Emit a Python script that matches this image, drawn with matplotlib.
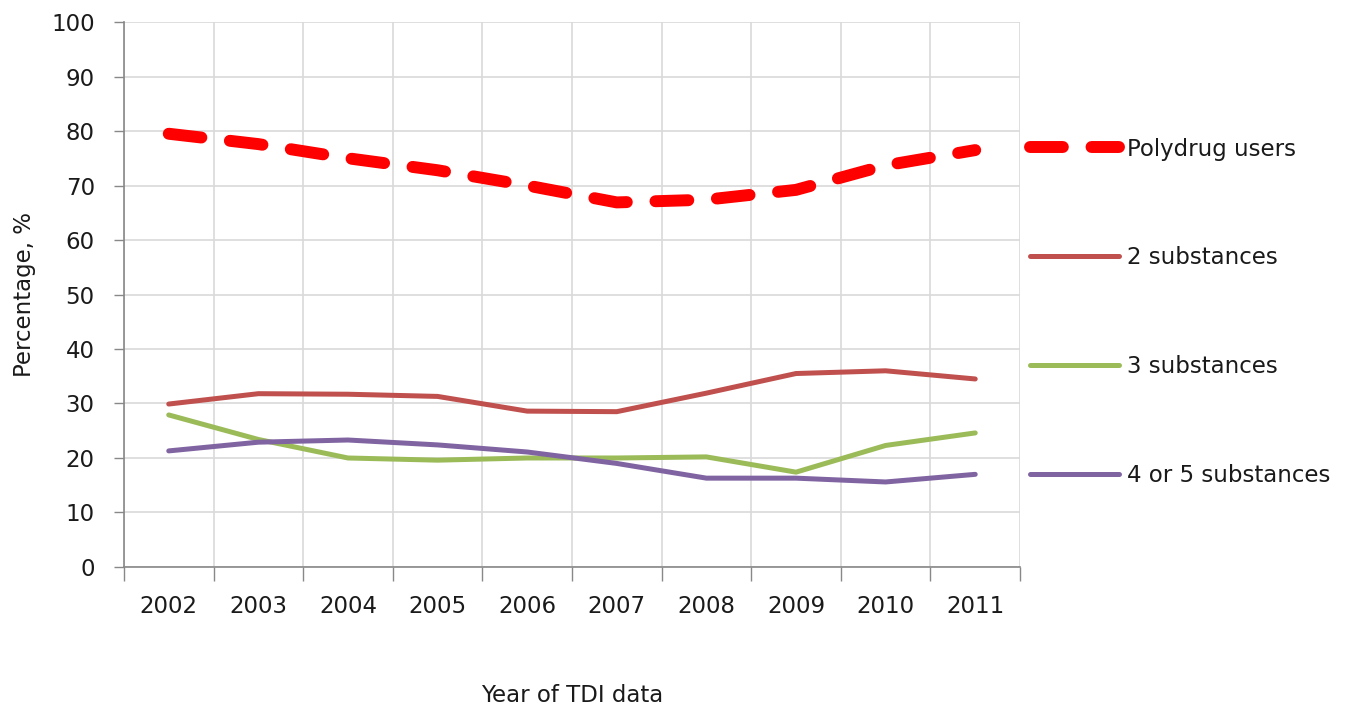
import matplotlib
matplotlib.use("Agg")
import matplotlib.pyplot as plt
import numpy as np

years = ["2002", "2003", "2004", "2005", "2006", "2007", "2008", "2009", "2010", "2011"]
polydrug = [79.5, 77.6, 75.0, 72.8, 70.0, 66.9, 67.4, 69.2, 73.7, 76.5]
two_sub = [29.9, 31.8, 31.7, 31.3, 28.6, 28.5, 31.9, 35.5, 36.0, 34.5]
three_sub = [27.9, 23.4, 20.0, 19.6, 20.0, 20.0, 20.2, 17.4, 22.3, 24.6]
four_five_sub = [21.3, 22.9, 23.3, 22.4, 21.1, 19.0, 16.3, 16.3, 15.6, 17.0]
series_names = ["Polydrug users", "2 substances", "3 substances", "4 or 5 substances"]
y_ticks = list(range(0, 101, 10))

FS = 16.5
TXT = "#1a1a1a"
plt.rcParams['font.family'] = ['DejaVu Sans']
fig = plt.figure(figsize=(13.71, 7.13), dpi=100)
ax = fig.add_axes([0.0904, 0.2048, 0.744 - 0.0904, 0.9691 - 0.2048])

x = np.arange(len(years)) + 0.5
l1, = ax.plot(x, polydrug, color="#FF0000", lw=8.6, dash_capstyle="round",
              solid_joinstyle="round", zorder=5)
l1.set_dashes((2.75, 2.4))
l2, = ax.plot(x, two_sub, color="#C0504D", lw=3.6, solid_joinstyle="round",
              solid_capstyle="round", zorder=4)
l3, = ax.plot(x, three_sub, color="#9BBB59", lw=3.6, solid_joinstyle="round",
              solid_capstyle="round", zorder=4)
l4, = ax.plot(x, four_five_sub, color="#8064A2", lw=3.6, solid_joinstyle="round",
              solid_capstyle="round", zorder=4)

ax.set_xlim(0, len(years))
ax.set_ylim(0, 100)
ax.set_yticks(y_ticks)
ax.set_yticklabels([str(v) for v in y_ticks], fontsize=FS, color=TXT)
ax.set_xticks(np.arange(len(years) + 1))
ax.set_xticklabels([])
ax.set_xticks(x, minor=True)
ax.set_xticklabels(years, minor=True, fontsize=FS, color=TXT)
ax.tick_params(axis="x", which="minor", length=0, pad=20)
ax.tick_params(axis="x", which="major", length=10, color="#888888", width=1)
ax.tick_params(axis="y", length=7, color="#888888", width=1, pad=14)

ax.grid(True, which="major", color="#D9D9D9", lw=1.2, zorder=0)
ax.set_axisbelow(True)
for s in ["top", "right"]:
    ax.spines[s].set_visible(False)
for s in ["left", "bottom"]:
    ax.spines[s].set_color("#888888")
    ax.spines[s].set_linewidth(1.2)

ax.set_xlabel("Year of TDI data", fontsize=FS, color=TXT)
ax.xaxis.set_label_coords(0.5, -0.215)
ax.set_ylabel("Percentage, %", fontsize=FS, color=TXT, labelpad=11)

leg = fig.legend([l1, l2, l3, l4], series_names, loc="upper left",
                 bbox_to_anchor=(0.7445, 0.820), frameon=True, fontsize=FS,
                 handlelength=3.9, handletextpad=0.35, labelspacing=3.75,
                 borderpad=0.4, borderaxespad=0, fancybox=False)
leg.get_frame().set_facecolor("white")
leg.get_frame().set_edgecolor("white")
leg.set_zorder(10)
for t in leg.get_texts():
    t.set_color(TXT)

fig.savefig("out.png", dpi=100, facecolor="white")
